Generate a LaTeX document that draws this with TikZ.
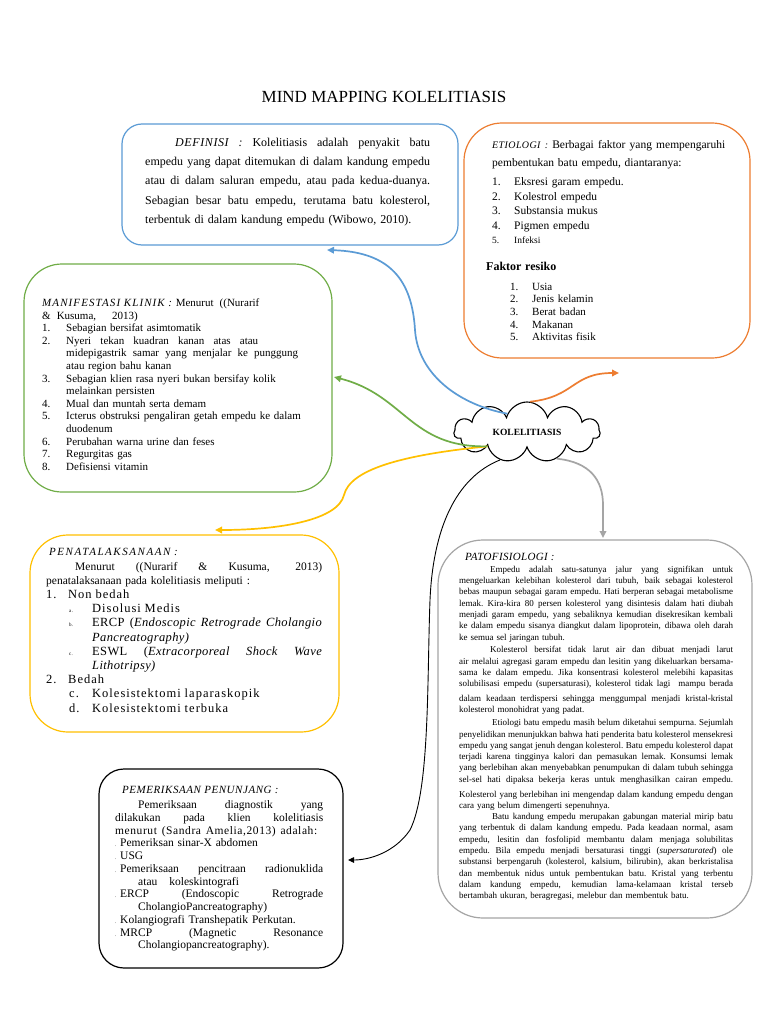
\documentclass[tikz,border=0pt]{standalone}
\usepackage{fontspec}
\setmainfont{Liberation Serif}
\usetikzlibrary{shapes.symbols,arrows.meta}
\definecolor{cblue}{HTML}{5B9BD5}
\definecolor{corange}{HTML}{ED7D31}
\definecolor{cgreen}{HTML}{70AD47}
\definecolor{cyellow}{HTML}{FFC000}
\definecolor{cgray}{HTML}{A5A5A5}
\newcommand\fsz[2]{\fontsize{#1}{#2}\selectfont}
\newcommand\JB[2]{\leavevmode\hbox to #1{\spaceskip=.25em plus 1fil minus .08em\xspaceskip=\spaceskip #2}}
\newcommand\JL[1]{\JB{\hsize}{#1}}
\newcommand\labx[2][6]{{\itshape\addfontfeatures{LetterSpace=#1}#2}}
\newcommand\lsp{\addfontfeatures{LetterSpace=8}}
\newcommand\lsq{\addfontfeatures{LetterSpace=3}}
\begin{document}
\begin{tikzpicture}[x=1pt,y=-1pt,
  bx/.style={draw, line width=1.2pt, inner sep=0pt},
  tx/.style={anchor=north west, inner sep=0pt, align=left},
  con/.style={line width=1.7pt, -{Triangle[length=7pt,width=6.5pt]}},
  thincon/.style={line width=0.9pt, -{Triangle[length=6pt,width=5.5pt]}}]
\useasboundingbox (0,0) rectangle (768,1024);
\fill[white] (0,0) rectangle (768,1024);

% title
\node[anchor=base, inner sep=0pt, font=\fsz{17}{20}] (title) at (384,103) {MIND MAPPING KOLELITIASIS};

% boxes
\node[bx, draw=cblue, rounded corners=20pt, minimum width=336pt, minimum height=121pt] (defbox) at (290,184.5) {};
\node[bx, draw=corange, rounded corners=38pt, minimum width=286pt, minimum height=235pt] (etibox) at (607,240.5) {};
\node[bx, draw=cgreen, rounded corners=38pt, minimum width=308pt, minimum height=228pt] (manbox) at (178,378) {};
\node[bx, draw=cyellow, rounded corners=38pt, minimum width=309pt, minimum height=197pt] (penbox) at (184.5,633.5) {};
\node[bx, draw=cgray, rounded corners=45pt, minimum width=314pt, minimum height=378pt] (patbox) at (595,729) {};
\node[bx, draw=black, rounded corners=25pt, minimum width=244pt, minimum height=199pt] (pembox) at (221,868.5) {};

% cloud
\node[cloud, draw, line width=1.1pt, cloud puffs=11, aspect=2.43, minimum width=146pt, minimum height=60pt, inner sep=0pt, font=\fsz{9.5}{11}\bfseries] (cloud) at (527,432) {KOLELITIASIS};

% definisi
\node[tx, text width=285pt, font=\fsz{12}{19.4}] (deftext) at (145,137.5) {%
\JL{\hspace*{30pt}\labx[5]{DEFINISI :} Kolelitiasis adalah penyakit batu}\\
\JL{empedu yang dapat ditemukan di dalam kandung empedu}\\
\JL{atau di dalam saluran empedu, atau pada kedua-duanya.}\\
\JL{Sebagian besar batu empedu, terutama batu kolesterol,}\\
terbentuk di dalam kandung empedu (Wibowo, 2010).};

% etiologi
\node[tx, text width=240pt, font=\fsz{11.5}{14.5}] (etitext) at (492,140.5) {%
\JB{233pt}{\labx[4]{\fsz{10}{14.5}ETIOLOGI :} Berbagai faktor yang mempengaruhi}\\[3.5pt]
pembentukan batu empedu, diantaranya:\\[4.5pt]
\makebox[22pt][l]{1.}Eksresi garam empedu.\\
\makebox[22pt][l]{2.}Kolestrol empedu\\
\makebox[22pt][l]{3.}Substansia mukus\\
\makebox[22pt][l]{4.}Pigmen empedu\\
{\fsz{9.5}{14.5}\makebox[22pt][l]{5.}Infeksi}};
\node[tx, text width=200pt, font=\fsz{11}{12.7}] (faktext) at (486,261.5) {%
{\fsz{12}{12.7}\bfseries Faktor resiko}\\[7.3pt]
\hspace*{24pt}\makebox[22pt][l]{1.}Usia\\
\hspace*{24pt}\makebox[22pt][l]{2.}Jenis kelamin\\
\hspace*{24pt}\makebox[22pt][l]{3.}Berat badan\\
\hspace*{24pt}\makebox[22pt][l]{4.}Makanan\\
\hspace*{24pt}\makebox[22pt][l]{5.}Aktivitas fisik};

% manifestasi
\node[tx, text width=270pt, font=\fsz{11}{12.6}] (mantext) at (42,298.5) {%
\labx[10]{MANIFESTASI KLINIK :} Menurut\hspace{6pt}((Nurarif\\
\&\hspace{6pt}Kusuma,\hspace{16pt}2013)\\
\makebox[24pt][l]{1.}Sebagian bersifat asimtomatik\\
\makebox[24pt][l]{2.}\JB{192pt}{Nyeri tekan kuadran kanan atas atau}\\
\hspace*{24pt}\JB{232pt}{midepigastrik samar yang menjalar ke punggung}\\
\hspace*{24pt}atau region bahu kanan\\
\makebox[24pt][l]{3.}Sebagian klien rasa nyeri bukan bersifay kolik\\
\hspace*{24pt}melainkan persisten\\
\makebox[24pt][l]{4.}Mual dan muntah serta demam\\
\makebox[24pt][l]{5.}Icterus obstruksi pengaliran getah empedu ke dalam\\
\hspace*{24pt}duodenum\\
\makebox[24pt][l]{6.}Perubahan warna urine dan feses\\
\makebox[24pt][l]{7.}Regurgitas gas\\
\makebox[24pt][l]{8.}Defisiensi vitamin};

% penatalaksanaan
\node[tx, text width=280pt, font=\fsz{11.5}{14.2}] (pentext) at (46,548.5) {%
\hspace*{3pt}\labx[14]{\fsz{11}{14.2}PENATALAKSANAAN :}\\
\JB{276pt}{\hspace*{29pt}Menurut ((Nurarif \& Kusuma, 2013)}\\
penatalaksanaan pada kolelitiasis meliputi :\\
{\fsz{12.5}{14.2}\lsp\makebox[22pt][l]{1.}Non bedah}\\
{\fsz{12.5}{14.2}\lsp\hspace*{23pt}\makebox[23pt][l]{\tiny a.}Disolusi Medis}\\
{\fsz{12.5}{14.2}\lsq\hspace*{23pt}\makebox[23pt][l]{\tiny b.}\JB{230pt}{ERCP (\textit{Endoscopic Retrograde Cholangio}}}\\
{\fsz{12.5}{14.2}\lsq\hspace*{46pt}\textit{Pancreatography)}}\\
{\fsz{12.5}{14.2}\lsq\hspace*{23pt}\makebox[23pt][l]{\tiny c.}\JB{230pt}{ESWL (\textit{Extracorporeal Shock Wave}}}\\
{\fsz{12.5}{14.2}\lsq\hspace*{46pt}\textit{Lithotripsy)}}\\
{\fsz{12.5}{14.2}\lsp\makebox[22pt][l]{2.}Bedah}\\
{\fsz{12.5}{14.2}\lsp\hspace*{23pt}\makebox[23pt][l]{c.}Kolesistektomi laparaskopik}\\
{\fsz{12.5}{14.2}\lsp\hspace*{23pt}\makebox[23pt][l]{d.}Kolesistektomi terbuka}};

% patofisiologi
\node[tx, font=\fsz{11}{13}] (pattitle) at (465,553.5) {\labx[3]{PATOFISIOLOGI :}};
\node[tx, text width=274pt, font=\fsz{9}{11.3}] (pattext) at (459,565.8) {%
\JL{\hspace*{31pt}Empedu adalah satu-satunya jalur yang signifikan untuk}\\
\JL{mengeluarkan kelebihan kolesterol dari tubuh, baik sebagai kolesterol}\\
\JL{bebas maupun sebagai garam empedu. Hati berperan sebagai metabolisme}\\
\JL{lemak. Kira-kira 80 persen kolesterol yang disintesis dalam hati diubah}\\
\JL{menjadi garam empedu, yang sebaliknya kemudian disekresikan kembali}\\
\JL{ke dalam empedu sisanya diangkut dalam lipoprotein, dibawa oleh darah}\\
ke semua sel jaringan tubuh.\\[1.5pt]
\JL{\hspace*{31pt}Kolesterol bersifat tidak larut air dan dibuat menjadi larut}\\
\JL{air melalui agregasi garam empedu dan lesitin yang dikeluarkan bersama-}\\
\JL{sama ke dalam empedu. Jika konsentrasi kolesterol melebihi kapasitas}\\
\JL{solubilisasi empedu (supersaturasi), kolesterol tidak lagi\ \ mampu berada}\\[3.5pt]
\JL{dalam keadaan terdispersi sehingga menggumpal menjadi kristal-kristal}\\
kolesterol monohidrat yang padat.\\[1.5pt]
\JL{\hspace*{33pt}Etiologi batu empedu masih belum diketahui sempurna. Sejumlah}\\
\JL{penyelidikan menunjukkan bahwa hati penderita batu kolesterol mensekresi}\\
\JL{empedu yang sangat jenuh dengan kolesterol. Batu empedu kolesterol dapat}\\
\JL{terjadi karena tingginya kalori dan pemasukan lemak. Konsumsi lemak}\\
\JL{yang berlebihan akan menyebabkan penumpukan di dalam tubuh sehingga}\\
\JL{sel-sel hati dipaksa bekerja keras untuk menghasilkan cairan empedu.}\\[3.5pt]
\JL{Kolesterol yang berlebihan ini mengendap dalam kandung empedu dengan}\\
cara yang belum dimengerti sepenuhnya.\\
\JL{\hspace*{33pt}Batu kandung empedu merupakan gabungan material mirip batu}\\
\JL{yang terbentuk di dalam kandung empedu. Pada keadaan normal, asam}\\
\JL{empedu, lesitin dan fosfolipid membantu dalam menjaga solubilitas}\\
\JL{empedu. Bila empedu menjadi bersaturasi tinggi (\textit{supersaturated}) ole}\\
\JL{substansi berpengaruh (kolesterol, kalsium, bilirubin), akan berkristalisa}\\
\JL{dan membentuk nidus untuk pembentukan batu. Kristal yang terbentu}\\
\JL{dalam kandung empedu, kemudian lama-kelamaan kristal terseb}\\
bertambah ukuran, beragregasi, melebur dan membentuk batu.};

% pemeriksaan
\node[tx, font=\fsz{11}{13}] (pemtitle) at (122,786) {\labx[5]{PEMERIKSAAN PENUNJANG :}};
\node[tx, text width=208pt, font=\fsz{11.5}{12.75}] (pemtext) at (115,800.5) {%
\JL{\hspace*{23pt}Pemeriksaan diagnostik yang}\\
\JL{dilakukan pada klien kolelitiasis}\\
{\addfontfeatures{LetterSpace=5}\JB{202pt}{menurut (Sandra Amelia,2013) adalah:}}\\
\makebox[5pt][l]{\tiny .}Pemeriksan sinar-X abdomen\\
\makebox[5pt][l]{\tiny .}USG\\
\makebox[5pt][l]{\tiny .}\JB{203pt}{Pemeriksaan pencitraan radionuklida}\\
\hspace*{23pt}atau\hspace{12pt}koleskintografi\\
\makebox[5pt][l]{\tiny .}\JB{203pt}{ERCP (Endoscopic Retrograde}\\
\hspace*{23pt}CholangioPancreatography)\\
\makebox[5pt][l]{\tiny .}Kolangiografi Transhepatik Perkutan.\\
\makebox[5pt][l]{\tiny .}\JB{203pt}{MRCP (Magnetic Resonance}\\
\hspace*{23pt}Cholangiopancreatography).};

% connector ends
\coordinate (blueEnd) at (327,250);
\coordinate (orangeEnd) at (619,373);
\coordinate (greenEnd) at (334,377);
\coordinate (yellowEnd) at (215,530);
\coordinate (blackEnd) at (348,860);
\coordinate (grayEnd) at (603,538);

% connectors
\draw[con, cblue] (cloud.137) .. controls (460,405) and (418,375) .. (415,330) .. controls (412,280) and (390,252) .. (blueEnd);
\draw[con, corange] (cloud.84) .. controls (575,397) and (572,373) .. (orangeEnd);
\draw[con, cyellow] (cloud.200) .. controls (400,455) and (350,470) .. (344,495) .. controls (338,520) and (280,530) .. (yellowEnd);
\draw[con, cgreen] (cloud.200) .. controls (410,448) and (405,395) .. (greenEnd);
\draw[con, cgray] (cloud.318) .. controls (590,462) and (603,480) .. (603,505) -- (grayEnd);
\draw[thincon, black] (cloud.226) .. controls (455,478) and (433,530) .. (430,600) .. controls (427,680) and (430,790) .. (410,830) .. controls (395,852) and (370,860) .. (blackEnd);
\end{tikzpicture}
\end{document}
